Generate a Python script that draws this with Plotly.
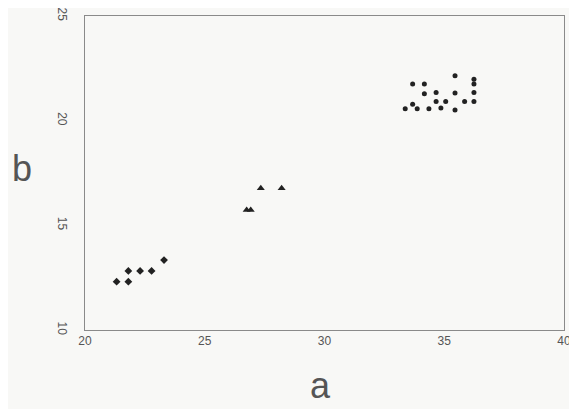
import plotly.graph_objects as go

# Group 1 (diamonds)
g1_a = [21.32, 21.81, 21.81, 22.30, 22.78, 23.30]
g1_b = [12.31, 12.31, 12.82, 12.82, 12.82, 13.34]
# Group 2 (triangles)
g2_a = [26.75, 26.92, 27.34, 28.21]
g2_b = [15.73, 15.73, 16.77, 16.77]
# Group 3 (dots)
g3_a = [35.45, 33.68, 34.17, 36.24, 36.24, 34.17, 34.66, 35.45, 36.24,
        34.66, 35.06, 35.85, 36.24, 33.68, 33.37, 33.87, 34.36, 34.86, 35.45]
g3_b = [22.14, 21.75, 21.75, 21.98, 21.75, 21.29, 21.34, 21.32, 21.34,
        20.91, 20.91, 20.91, 20.91, 20.78, 20.57, 20.57, 20.57, 20.61, 20.51]

x_ticks = [20, 25, 30, 35, 40]
y_ticks = [10, 15, 20, 25]

W, H = 569, 401
L, R, T, B = 77, 13, 8, 79
plot_w = W - L - R
plot_h = H - T - B

mc = "#222222"
fig = go.Figure()
fig.add_trace(go.Scatter(x=g1_a, y=g1_b, mode="markers",
                         marker=dict(symbol="diamond", size=6, color=mc)))
fig.add_trace(go.Scatter(x=g2_a, y=g2_b, mode="markers",
                         marker=dict(symbol="triangle-up", size=7, color=mc)))
fig.add_trace(go.Scatter(x=g3_a, y=g3_b, mode="markers",
                         marker=dict(symbol="circle", size=5, color=mc)))

ff = "Liberation Sans, Arial, sans-serif"
axis_font = dict(family=ff, size=12, color="#555")


def px_x(x):
    return (x - L) / plot_w


def px_y(y):
    return (H - B - y) / plot_h


fig.update_layout(
    width=W, height=H,
    margin=dict(l=L, r=R, t=T, b=B),
    paper_bgcolor="#f8f8f6", plot_bgcolor="#f8f8f6",
    showlegend=False,
    xaxis=dict(range=[20, 40], tickvals=x_ticks, showgrid=False, zeroline=False,
               showline=True, mirror=True, linecolor="#8a8a8a", linewidth=1,
               ticks="", tickfont=axis_font, automargin=False,
               ticklabeloverflow="allow"),
    yaxis=dict(range=[10, 25], tickvals=y_ticks, showgrid=False, zeroline=False,
               showline=True, mirror=True, linecolor="#8a8a8a", linewidth=1,
               ticks="", tickangle=90, tickfont=axis_font, ticklabelstandoff=12,
               automargin=False, ticklabeloverflow="allow"),
    annotations=[
        dict(text="a", x=px_x(312), y=px_y(377), xref="paper", yref="paper",
             xanchor="center", yanchor="middle",
             showarrow=False, font=dict(family=ff, size=36, color="#555")),
        dict(text="b", x=px_x(14), y=px_y(160), xref="paper", yref="paper",
             xanchor="center", yanchor="middle",
             showarrow=False, font=dict(family=ff, size=36, color="#555")),
    ],
)
fig.write_html("out.html")
